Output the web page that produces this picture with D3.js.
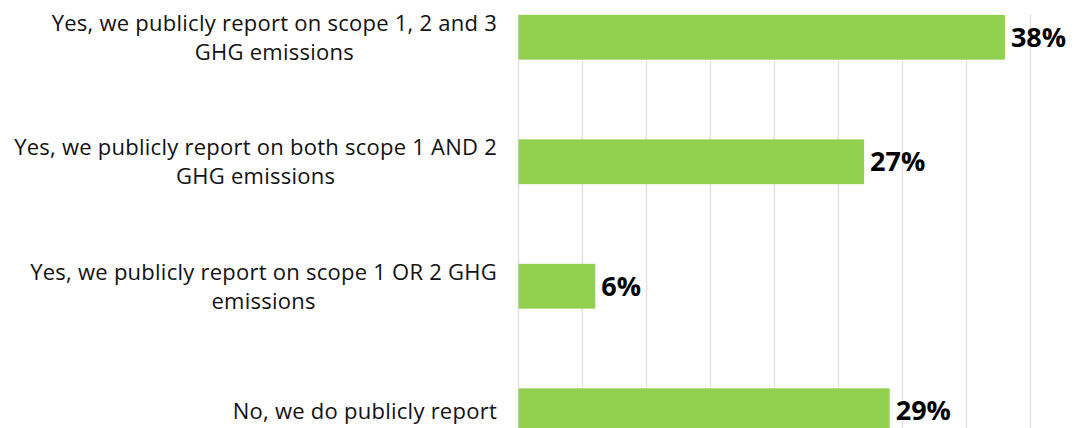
<!DOCTYPE html>
<html>
<head>
<meta charset="utf-8">
<script src="https://cdn.jsdelivr.net/npm/d3@7"></script>
<style>
  body { margin: 0; background: #fff; }
  svg { display: block; }
</style>
</head>
<body>
<div id="body"></div>
<script>
// chart data
var categories = [
  ['Yes, we publicly report on scope 1, 2 and 3', 'GHG emissions'],
  ['Yes, we publicly report on both scope 1 AND 2', 'GHG emissions'],
  ['Yes, we publicly report on scope 1 OR 2 GHG', 'emissions'],
  ['No, we do publicly report']
];
var values = [38, 27, 6, 29];
var gridTicks = [0, 5, 10, 15, 20, 25, 30, 35, 40];

var width = 1075, height = 428;

var svg = d3.select('#body')
    .append('svg')
    .attr('width', width)
    .attr('height', height);

var x = d3.scaleLinear()
    .domain([0, 40])
    .range([518.5, 1030.5]);

var y = d3.scaleBand()
    .domain(d3.range(categories.length))
    .range([-25, 473])
    .paddingInner(0.64)
    .paddingOuter(0.32);

// gridlines
svg.append('g')
    .selectAll('line')
    .data(gridTicks)
    .enter().append('line')
    .attr('x1', function (d) { return x(d); })
    .attr('x2', function (d) { return x(d); })
    .attr('y1', 14)
    .attr('y2', height)
    .attr('stroke', '#e3e3e3')
    .attr('stroke-width', 1.5);

// bars
svg.append('g')
    .selectAll('rect')
    .data(values)
    .enter().append('rect')
    .attr('x', x(0))
    .attr('y', function (d, i) { return y(i); })
    .attr('width', function (d) { return x(d) - x(0); })
    .attr('height', y.bandwidth())
    .attr('fill', '#92D050');

// value labels
svg.append('g')
    .selectAll('text')
    .data(values)
    .enter().append('text')
    .attr('x', function (d) { return x(d) + 6; })
    .attr('y', function (d, i) { return y(i) + y.bandwidth() / 2; })
    .attr('dy', '0.36em')
    .attr('font-family', '"Open Sans", sans-serif')
    .attr('font-weight', 700)
    .attr('font-size', '27px')
    .attr('fill', '#000')
    .text(function (d) { return d + '%'; });

// category labels: block right edge at 497, lines centred within the block
var labelRight = 497, lineH = 29;
categories.forEach(function (lines, i) {
  var cy = y(i) + y.bandwidth() / 2;
  var t = svg.append('text')
      .attr('font-family', '"Open Sans", sans-serif')
      .attr('font-size', '22px')
      .attr('letter-spacing', '0.25px')
      .attr('fill', '#111')
      .attr('text-anchor', 'middle');
  var spans = lines.map(function (s, k) {
    return t.append('tspan')
        .attr('y', cy + (k - (lines.length - 1) / 2) * lineH)
        .attr('dy', '0.36em')
        .text(s);
  });
  var maxW = d3.max(spans, function (s) { return s.node().getComputedTextLength(); });
  spans.forEach(function (s) { s.attr('x', labelRight - maxW / 2); });
});
</script>
</body>
</html>
